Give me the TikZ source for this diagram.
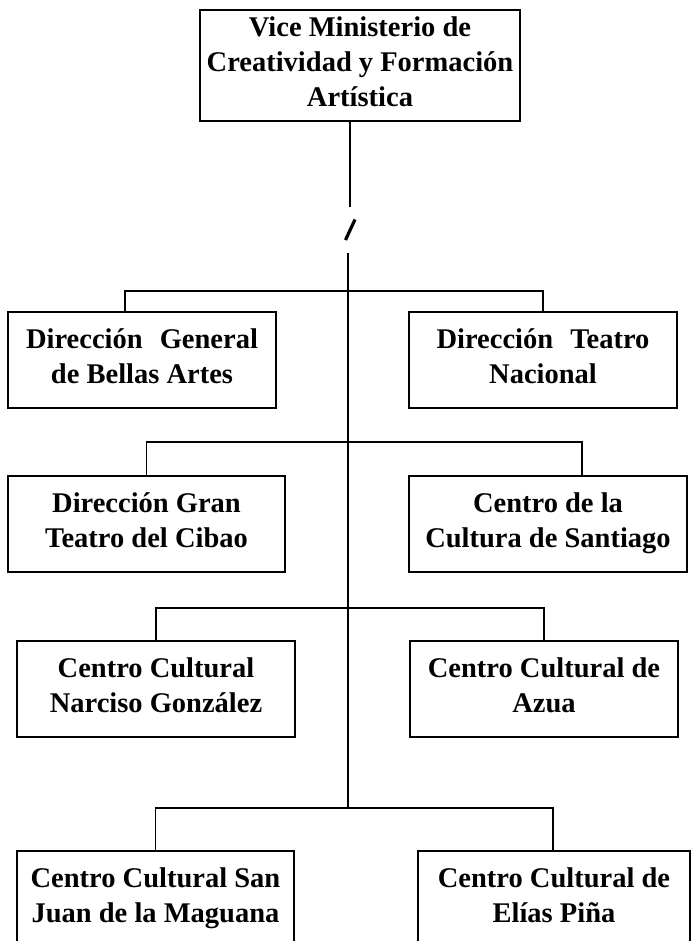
\documentclass[tikz,border=0pt]{standalone}
\usepackage{fontspec}
\setmainfont{Liberation Serif}
\newcommand\boxstrut{\rule[-8pt]{0pt}{35pt}}
\begin{document}
\begin{tikzpicture}[x=1pt,y=-1pt,
    unit/.style={draw,line width=2pt,align=center,inner sep=0pt,
      minimum width=270pt,minimum height=96pt,
      font=\bfseries\fontsize{28.5}{35}\selectfont,
      execute at begin node=\boxstrut,execute at end node=\boxstrut},
    link/.style={line width=1.8pt}]
  \clip (0,0) rectangle (691,941);
  \node[unit,minimum width=320pt,minimum height=111pt] (vmc) at (360,65.5)
    {Vice Ministerio de\\Creatividad y Formación\\Artística};
  \node[unit,minimum width=268pt] (dgba) at (142,360) {Dirección\hspace{0.35em} General\\de Bellas Artes};
  \node[unit,minimum width=268pt] (dtn) at (543,360) {Dirección\hspace{0.35em} Teatro\\Nacional};
  \node[unit,minimum width=277pt] (dgtc) at (146.5,524) {Dirección Gran\\Teatro del Cibao};
  \node[unit,minimum width=278pt] (ccs) at (548,524) {Centro de la\\Cultura de Santiago};
  \node[unit,minimum width=278pt] (ccng) at (156,689) {Centro Cultural\\Narciso González};
  \node[unit,minimum width=268pt] (cca) at (544,689) {Centro Cultural de\\Azua};
  \node[unit,minimum width=277pt] (ccsj) at (155.5,899) {Centro Cultural San\\Juan de la Maguana};
  \node[unit,minimum width=272pt] (ccep) at (554,899) {Centro Cultural de\\Elías Piña};
  % trunk, cut by the break mark
  \coordinate (brk1) at (350,207);
  \coordinate (brk2) at (348,253);
  \coordinate (j1) at (348,291);
  \coordinate (j2) at (348,442);
  \coordinate (j3) at (348,608);
  \coordinate (j4) at (348,808);
  \draw[link] (vmc.south -| brk1) -- (brk1);
  \draw[line width=3.2pt] (345.5,240) -- (355,219.5);
  \draw[link] (brk2) -- (j4);
  % branches
  \draw[link] ([xshift=-17pt]dgba.north) |- (j1) -| (dtn.north);
  \draw[link] (dgtc.north) |- (j2) -| ([xshift=34pt]ccs.north);
  \draw[link] (ccng.north) |- (j3) -| (cca.north);
  \draw[link] (ccsj.north) |- (j4) -| ([xshift=-1pt]ccep.north);
\end{tikzpicture}
\end{document}
